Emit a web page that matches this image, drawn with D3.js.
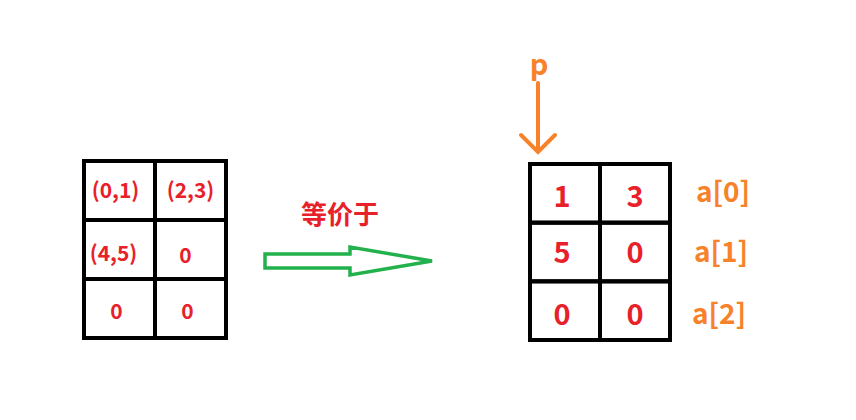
<!DOCTYPE html>
<html><head><meta charset="utf-8">
<script src="https://cdn.jsdelivr.net/npm/d3@7"></script>
<style>body{margin:0;background:#fff}</style>
</head><body>
<script>
// Cell contents of the two grids.
const leftCells = [["(0,1)", "(2,3)"], ["(4,5)", "0"], ["0", "0"]];
const rightCells = [["1", "3"], ["5", "0"], ["0", "0"]];
const rowLabels = ["a[0]", "a[1]", "a[2]"];
const red = "#e8202a", orange = "#f7822a", green = "#22b14c";

const svg = d3.select("body").append("svg").attr("width", 856).attr("height", 420);
const font = "'Microsoft YaHei','Noto Sans CJK SC','Noto Sans',sans-serif";

function grid(x0, y0, w, h, cells, size, dx, dy) {
    const x = d3.scaleBand().domain([0, 1]).range([x0, x0 + w]);
    const y = d3.scaleBand().domain([0, 1, 2]).range([y0, y0 + h]);
    const g = svg.append("g");
    cells.forEach((row, r) => row.forEach((t, c) => {
        g.append("rect").attr("x", x(c)).attr("y", y(r))
            .attr("width", x.bandwidth()).attr("height", y.bandwidth())
            .attr("fill", "none").attr("stroke", "#000").attr("stroke-width", 4);
        g.append("text").attr("x", x(c) + x.bandwidth() / 2 + (dx[r][c] || 0))
            .attr("y", y(r) + y.bandwidth() / 2 + (dy[r][c] || 0))
            .attr("text-anchor", "middle").attr("dominant-baseline", "central")
            .attr("fill", red).attr("font-weight", "bold").attr("font-size", size)
            .attr("font-family", font).text(t);
    }));
    return y;
}

grid(84, 161, 142, 177, leftCells, 21, [[-4, 0], [-6, -5], [-3, -3]], [[-2, -2], [2, 4], [1, 1]]);
const yr = grid(530, 164, 140, 176, rightCells, 29, [[-3, 0], [-3, 0], [-3, 0]], [[1, 1], [-2, -2], [1, 1]]);

rowLabels.forEach((t, i) => {
    svg.append("text").attr("x", 723 - i * 2).attr("y", yr(i) + yr.bandwidth() / 2 + [-3, -2, 1][i])
        .attr("text-anchor", "middle").attr("dominant-baseline", "central")
        .attr("fill", orange).attr("font-weight", "bold").attr("font-size", 28)
        .attr("font-family", font).text(t);
});

// pointer p
svg.append("text").attr("x", 539).attr("y", 62).attr("text-anchor", "middle")
    .attr("dominant-baseline", "central").attr("fill", orange).attr("font-weight", "bold")
    .attr("font-size", 29).attr("font-family", font).text("p");
svg.append("path").attr("d", "M538,83V152M521,135L538,152L555,135")
    .attr("fill", "none").attr("stroke", orange).attr("stroke-width", 4).attr("stroke-linecap", "round");

// equivalence arrow
svg.append("text").attr("x", 340).attr("y", 212).attr("text-anchor", "middle")
    .attr("dominant-baseline", "central").attr("fill", red).attr("font-weight", "bold")
    .attr("font-size", 26).attr("font-family", font).text("等价于");
svg.append("path").attr("d", "M265,254H350V247L432,261L350,275V268H265Z")
    .attr("fill", "none").attr("stroke", green).attr("stroke-width", 3.5);
</script>
</body></html>
